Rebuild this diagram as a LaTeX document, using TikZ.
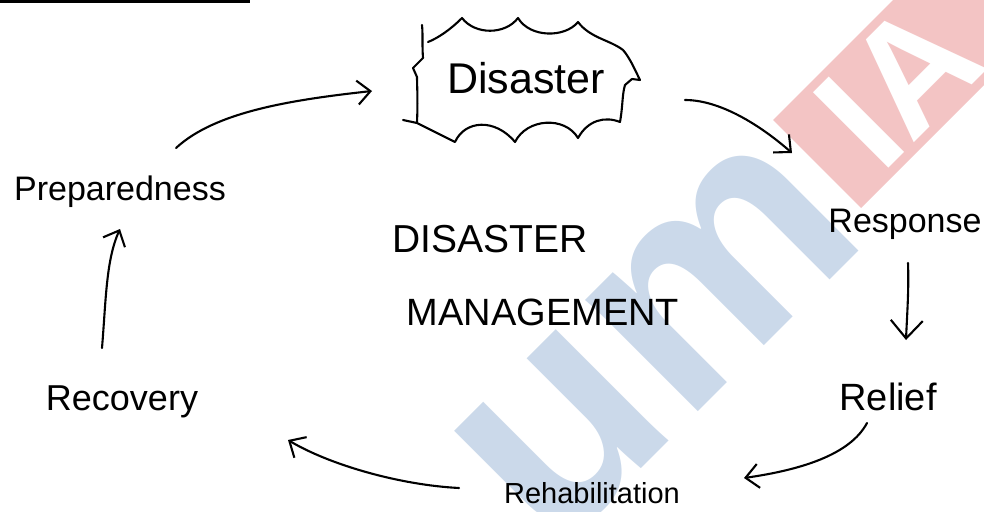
\documentclass[tikz,border=0pt]{standalone}
\usepackage{fontspec}
\setmainfont{Liberation Sans}
\usetikzlibrary{arrows.meta}
\definecolor{wmred}{HTML}{F3C4C4}
\definecolor{wmblue}{HTML}{CBD9EA}
\begin{document}
\begin{tikzpicture}[x=1pt,y=-1pt,
  pen/.style={line width=2.1pt, line cap=round, line join=round, black},
  arr/.style={pen, -{Straight Barb[length=13pt,width=24pt,line width=2.1pt]}},
  lbl/.style={inner sep=0pt, anchor=base, text=black},
  wm/.style={inner sep=0pt, rotate=45, font=\bfseries}]
\useasboundingbox (0,0) rectangle (984,511);
% ---- watermark ----
\begin{scope}
\clip (0,0) rectangle (984,511);
\fill[wmred] (773,120) -- (861,208) -- (1161,-92) -- (1073,-180) -- cycle;
\node[wm, anchor=base west, text=white, font=\bfseries\fontsize{155}{155}\selectfont] (wmias) at (881,176) {IA};
\node[wm, anchor=base east, text=wmblue, font=\bfseries\fontsize{300}{300}\selectfont] (wmforum) at (872,238) {um};
\end{scope}
% ---- top-left rule ----
\draw[line width=3pt] (0,1.5) -- (250,1.5);
% ---- disaster cloud ----
\draw[pen] (403,120) -- (417,123) -- (455,142)
  .. controls (465,120) and (495,118) .. (515,142)
  .. controls (527,118) and (565,116) .. (578,138)
  .. controls (588,120) and (605,116) .. (620,122)
  .. controls (623,105) and (622,95) .. (625,85)
  -- (632,79) -- (640,80)
  .. controls (635,70) and (630,58) .. (623,50)
  .. controls (610,40) and (590,38) .. (578,22)
  .. controls (565,38) and (530,38) .. (518,18)
  .. controls (505,35) and (475,35) .. (462,18)
  .. controls (450,30) and (438,38) .. (428,42);
\draw[pen] (417,122) .. controls (418,100) and (417,85) .. (417,77)
  -- (413,68) -- (423,58) .. controls (422,45) and (423,35) .. (422,25);
% ---- labels ----
\node[lbl, font=\fontsize{43}{43}\selectfont] (dis) at (526,93) {Disaster};
\node[lbl, font=\fontsize{34}{34}\selectfont] (prep) at (120,200) {Preparedness};
\node[lbl, font=\fontsize{34}{34}\selectfont] (resp) at (905,232) {Response};
\node[lbl, font=\fontsize{38}{38}\selectfont] (relief) at (888,410) {Relief};
\node[lbl, font=\fontsize{29}{29}\selectfont] (rehab) at (592,503) {Rehabilitation};
\node[lbl, font=\fontsize{36}{36}\selectfont] (recov) at (122,410) {Recovery};
\node[lbl, font=\fontsize{39}{39}\selectfont] (dm1) at (490,252) {DISASTER};
\node[lbl, font=\fontsize{38}{38}\selectfont] (dm2) at (543,325) {MANAGEMENT};
% ---- connector end points ----
\coordinate (p1) at (176,148);  \coordinate (d1) at (372,91);
\coordinate (d2) at (685,100);  \coordinate (r2) at (792,153);
\coordinate (r3) at (908,263);  \coordinate (l3) at (906,340);
\coordinate (l4) at (867,423);  \coordinate (h4) at (744,478);
\coordinate (h5) at (459,488);  \coordinate (c5) at (288,440);
\coordinate (c6) at (102,348);  \coordinate (p6) at (120,229);
% ---- connectors ----
\draw[arr] (p1) .. controls (215,112) and (290,100) .. (d1);
\draw[arr] (d2) .. controls (720,100) and (760,125) .. (r2);
\draw[arr, -{Straight Barb[length=18pt,width=32pt,line width=2.1pt]}] (r3) .. controls (909,290) and (907,315) .. (l3);
\draw[arr] (l4) .. controls (850,455) and (800,470) .. (h4);
\draw[arr] (h5) .. controls (400,485) and (330,465) .. (c5);
\draw[arr] (c6) .. controls (106,300) and (106,260) .. (p6);
\end{tikzpicture}
\end{document}
